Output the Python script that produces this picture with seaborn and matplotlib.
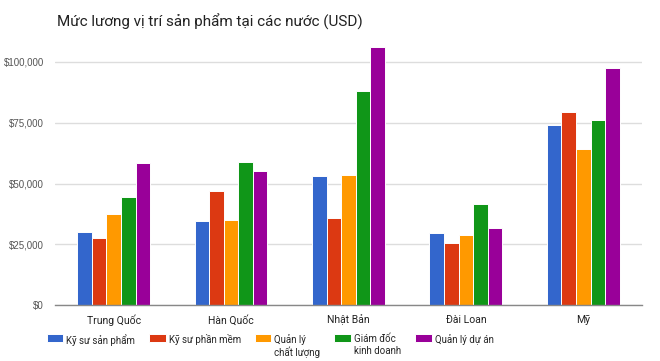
import matplotlib

matplotlib.use("Agg")
import matplotlib.pyplot as plt
import pandas as pd
import seaborn as sns

countries = ["Trung Quốc", "Hàn Quốc", "Nhật Bản", "Đài Loan", "Mỹ"]
roles = ["Kỹ sư sản phẩm", "Kỹ sư phần mềm", "Quản lý\nchất lượng", "Giám đốc\nkinh doanh", "Quản lý dự án"]
ky_su_san_pham = [30200, 34600, 53000, 29500, 74100]
ky_su_phan_mem = [27400, 46800, 35700, 25500, 79400]
quan_ly_chat_luong = [37600, 35100, 53400, 28800, 64300]
giam_doc_kinh_doanh = [44600, 59000, 88200, 41600, 76000]
quan_ly_du_an = [58400, 55000, 106000, 31800, 97400]
colors = ["#3366CC", "#DC3912", "#FF9900", "#109618", "#990099"]

series = [ky_su_san_pham, ky_su_phan_mem, quan_ly_chat_luong, giam_doc_kinh_doanh, quan_ly_du_an]
rows = []
for role, values in zip(roles, series):
    for country, value in zip(countries, values):
        rows.append({"country": country, "role": role, "salary": value})
df = pd.DataFrame(rows)

sns.set_style("white")
plt.rcParams["font.family"] = ["Roboto", "DejaVu Sans"]

fig = plt.figure(figsize=(6.6, 3.61), dpi=100, facecolor="white")
ax = fig.add_axes([0.0833, 0.155, 0.8894, 0.7406])

sns.barplot(
    data=df, x="country", y="salary", hue="role", order=countries, hue_order=roles,
    palette=colors, width=0.62, edgecolor="white", linewidth=0.7, saturation=1,
    errorbar=None, ax=ax, legend=True,
)

ax.set_xlim(-0.5, 4.5)
ax.set_ylim(0, 110000)
ax.set_yticks([0, 25000, 50000, 75000, 100000])
ax.set_yticklabels(["$0", "$25,000", "$50,000", "$75,000", "$100,000"],
                   fontsize=7, color="#555555", family="Liberation Sans")
ax.tick_params(axis="y", length=0, pad=8)
ax.tick_params(axis="x", length=0, pad=7, labelsize=7.5, labelcolor="#222222")
ax.grid(axis="y", color="#dddddd", linewidth=1)
ax.set_axisbelow(True)
ax.set_xlabel("")
ax.set_ylabel("")
for side in ["left", "right", "top"]:
    ax.spines[side].set_visible(False)
ax.spines["bottom"].set_color("#888888")
ax.spines["bottom"].set_linewidth(1)

fig.text(0.086, 0.94, "Mức lương vị trí sản phẩm tại các nước (USD)",
         fontsize=11, color="#222222", va="center", ha="left")

handles, labels = ax.get_legend_handles_labels()
ax.get_legend().remove()
leg = fig.legend(handles, labels, loc="upper left", bbox_to_anchor=(0.071, 1 - 334 / 361),
                 ncol=5, frameon=False, fontsize=7, handlelength=1.7, handleheight=0.95,
                 handletextpad=0.3, columnspacing=1.45, borderaxespad=0, borderpad=0)
# put handles next to the first line of wrapped labels
leg._legend_handle_box.align = "top"
for col in leg._legend_handle_box.get_children():
    col.align = "left"
    for row in col.get_children():
        row.align = "top"

fig.savefig("out.png", dpi=100, facecolor="white")
